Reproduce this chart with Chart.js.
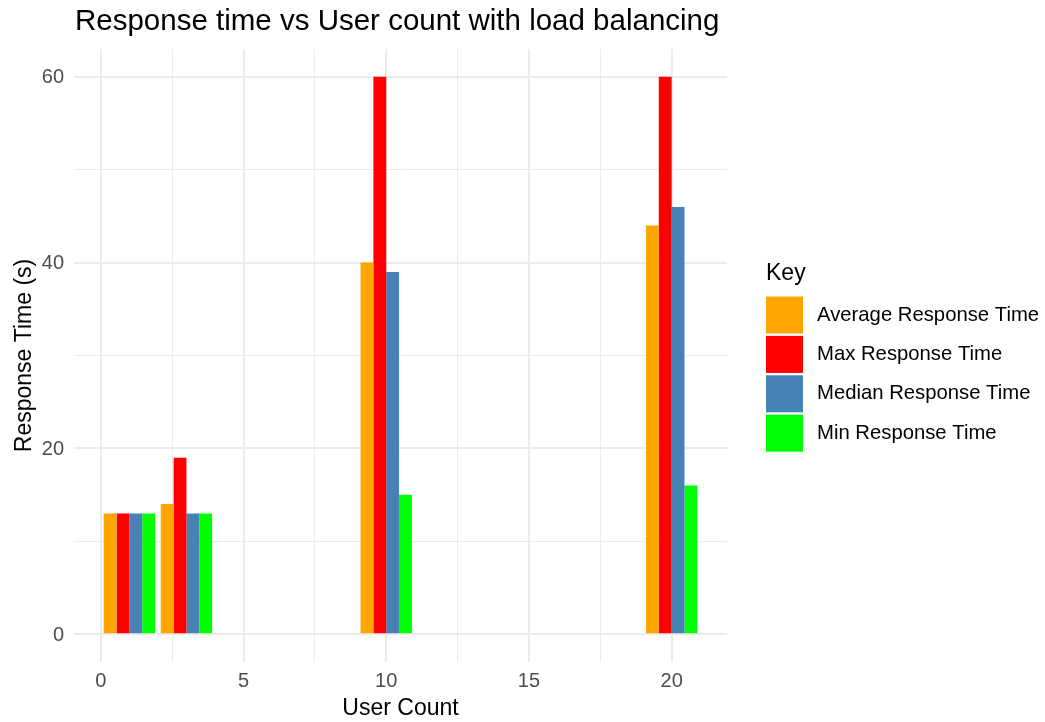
<!DOCTYPE html>
<html>
<head>
<meta charset="utf-8">
<script src="https://cdn.jsdelivr.net/npm/chart.js@4"></script>
<style>
  body { margin: 0; background: #fff; }
  #wrap { width: 1045px; height: 722px; position: relative; }
</style>
</head>
<body>
<div id="wrap"><canvas id="main-chart"></canvas></div>
<script>
// values
const userCounts = [1, 3, 10, 20];
const avgResponse = [13, 14, 40, 44];
const maxResponse = [13, 19, 60, 60];
const medianResponse = [13, 13, 39, 46];
const minResponse = [13, 13, 15, 16];

const seriesLabels = ['Average Response Time', 'Max Response Time', 'Median Response Time', 'Min Response Time'];
const seriesColors = ['#FFA500', '#FF0000', '#4682B4', '#00FF00'];

const xTicks = [0, 2.5, 5, 7.5, 10, 12.5, 15, 17.5, 20];
const yTicks = [0, 10, 20, 30, 40, 50, 60];

const FONT = "'Liberation Sans', Arial, sans-serif";
const GRID = '#EBEBEB';

const toPoints = (vals) => userCounts.map((u, i) => ({ x: u, y: vals[i] }));
const seriesValues = [avgResponse, maxResponse, medianResponse, minResponse];

// title aligned to the panel, like ggplot does
const panelTitle = {
    id: 'panelTitle',
    afterDraw(chart) {
        const ctx = chart.ctx;
        ctx.save();
        ctx.font = `29.5px ${FONT}`;
        ctx.fillStyle = '#000';
        ctx.textBaseline = 'alphabetic';
        ctx.fillText('Response time vs User count with load balancing', chart.chartArea.left + 1, 30);
        ctx.restore();
    }
};

// ggplot style key on the right
const keyLegend = {
    id: 'keyLegend',
    afterDraw(chart) {
        const ctx = chart.ctx;
        const left = chart.chartArea.right + 39;
        ctx.save();
        ctx.fillStyle = '#000';
        ctx.font = `23px ${FONT}`;
        ctx.textBaseline = 'alphabetic';
        ctx.fillText('Key', left, 280);
        ctx.font = `20.3px ${FONT}`;
        ctx.textBaseline = 'middle';
        chart.data.datasets.forEach((ds, i) => {
            const top = 296.5 + i * 39.4;
            ctx.fillStyle = ds.backgroundColor;
            ctx.fillRect(left, top, 37, 37);
            ctx.fillStyle = '#000';
            ctx.fillText(ds.label, left + 51, top + 18.5);
        });
        ctx.restore();
    }
};

const data = {
    datasets: seriesLabels.map((label, i) => ({
        label: label,
        data: toPoints(seriesValues[i]),
        backgroundColor: seriesColors[i],
        borderWidth: 0,
        categoryPercentage: 0.9,
        barPercentage: 1.0,
    })),
};

const config = {
    type: 'bar',
    data: data,
    options: {
        responsive: true,
        maintainAspectRatio: false,
        animation: false,
        layout: { padding: { top: 49, right: 318, bottom: 0, left: 0 } },
        plugins: {
            legend: { display: false },
            title: { display: false },
            tooltip: { enabled: false },
        },
        scales: {
            x: {
                type: 'linear',
                min: -0.94,
                max: 21.94,
                offset: false,
                afterFit: (scale) => { scale.height = 60; },
                afterBuildTicks: (scale) => { scale.ticks = xTicks.map(v => ({ value: v })); },
                grid: {
                    offset: false,
                    drawTicks: false,
                    color: GRID,
                    lineWidth: (c) => (c.tick && c.tick.value % 5 === 0 ? 2 : 1),
                },
                border: { display: false },
                ticks: {
                    autoSkip: false,
                    maxRotation: 0,
                    padding: 7,
                    color: '#4D4D4D',
                    font: { family: FONT, size: 20 },
                    callback: (v) => (v % 5 === 0 ? String(v) : ''),
                },
                title: {
                    display: true,
                    text: 'User Count',
                    color: '#000',
                    font: { family: FONT, size: 23 },
                    padding: { top: 0, bottom: 0 },
                },
            },
            y: {
                type: 'linear',
                min: -3,
                max: 63,
                afterFit: (scale) => { scale.width = 74; },
                afterBuildTicks: (scale) => { scale.ticks = yTicks.map(v => ({ value: v })); },
                grid: {
                    drawTicks: false,
                    color: GRID,
                    lineWidth: (c) => (c.tick && c.tick.value % 20 === 0 ? 2 : 1),
                },
                border: { display: false },
                ticks: {
                    autoSkip: false,
                    padding: 10,
                    labelOffset: 1,
                    color: '#4D4D4D',
                    font: { family: FONT, size: 20 },
                    callback: (v) => (v % 20 === 0 ? String(v) : ''),
                },
                title: {
                    display: true,
                    text: 'Response Time (s)',
                    color: '#000',
                    font: { family: FONT, size: 23 },
                    padding: { top: 11, bottom: 0 },
                },
            },
        },
    },
    plugins: [panelTitle, keyLegend],
};

const chart = new Chart(document.getElementById('main-chart'), config);
</script>
</body>
</html>
